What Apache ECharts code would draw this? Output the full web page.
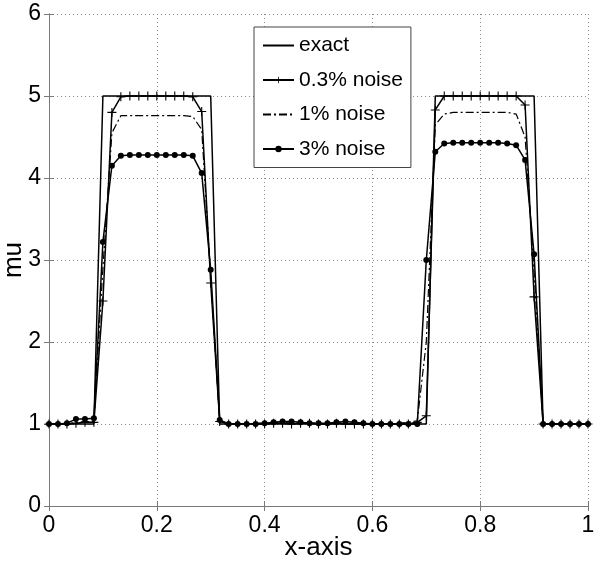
<!DOCTYPE html>
<html>
<head>
<meta charset="utf-8">
<script src="https://cdn.jsdelivr.net/npm/echarts@6/dist/echarts.min.js"></script>
<style>
  html, body { margin: 0; padding: 0; background: #fff; }
  #chart { width: 600px; height: 566px; }
</style>
</head>
<body>
<div id="chart"></div>
<script>
// sample positions on the x axis
var xs = [0, 0.0167, 0.0333, 0.05, 0.0667, 0.0833, 0.1, 0.1167, 0.1333, 0.15,
  0.1667, 0.1833, 0.2, 0.2167, 0.2333, 0.25, 0.2667, 0.2833, 0.3, 0.3167,
  0.3333, 0.35, 0.3667, 0.3833, 0.4, 0.4167, 0.4333, 0.45, 0.4667, 0.4833,
  0.5, 0.5167, 0.5333, 0.55, 0.5667, 0.5833, 0.6, 0.6167, 0.6333, 0.65,
  0.6667, 0.6833, 0.7, 0.7167, 0.7333, 0.75, 0.7667, 0.7833, 0.8, 0.8167,
  0.8333, 0.85, 0.8667, 0.8833, 0.9, 0.9167, 0.9333, 0.95, 0.9667, 0.9833,
  1]

var exact = [1, 1, 1, 1, 1, 1, 5, 5, 5, 5,
  5, 5, 5, 5, 5, 5, 5, 5, 5, 1,
  1, 1, 1, 1, 1, 1, 1, 1, 1, 1,
  1, 1, 1, 1, 1, 1, 1, 1, 1, 1,
  1, 1, 1, 5, 5, 5, 5, 5, 5, 5,
  5, 5, 5, 5, 5, 1, 1, 1, 1, 1,
  1]

var noise03 = [1, 1, 1, 1.01, 1.02, 1.02, 2.5, 4.8, 4.99, 5,
  5, 5, 5, 5, 5, 5, 4.99, 4.81, 2.72, 1.03,
  1, 1, 1, 1, 1, 1.01, 1.01, 1, 1.01, 1.01,
  1, 1, 1.01, 1, 1, 1, 1, 1, 1, 1,
  1, 1.02, 1.1, 4.83, 5, 5, 5, 5, 5, 5,
  5, 5, 5, 4.89, 2.55, 1, 1, 1, 1, 1,
  1]

var noise1 = [1, 1, 1, 1.02, 1.03, 1.03, 2.9, 4.55, 4.76, 4.76,
  4.76, 4.76, 4.76, 4.76, 4.76, 4.76, 4.75, 4.59, 2.8, 1.04,
  1, 1, 1, 1.01, 1.01, 1.02, 1.02, 1.01, 1.01, 1.01,
  1.01, 1, 1.01, 1.01, 1.01, 1, 1, 1, 1, 1.01,
  1.02, 1.04, 2.0, 4.65, 4.78, 4.8, 4.8, 4.8, 4.8, 4.8,
  4.8, 4.8, 4.78, 4.5, 2.85, 1, 1, 1, 1, 1,
  1]

var noise3 = [1, 1, 1.01, 1.06, 1.06, 1.07, 3.22, 4.15, 4.27, 4.28,
  4.28, 4.28, 4.28, 4.28, 4.28, 4.28, 4.27, 4.06, 2.88, 1.05,
  1, 1, 1, 1, 1.01, 1.02, 1.03, 1.03, 1.02, 1.01,
  1.01, 1.01, 1.02, 1.03, 1.02, 1.01, 1, 1, 1, 1,
  1, 1, 3.0, 4.32, 4.42, 4.43, 4.43, 4.43, 4.43, 4.43,
  4.43, 4.42, 4.4, 4.22, 3.07, 1, 1, 1, 1, 1,
  1]

var names = ['exact', '0.3% noise', '1% noise', '3% noise']

function pairs(ys) {
  return xs.map(function (x, i) { return [x, ys[i]] })
}

var axisGrey = '#7a7a7a'
var font = 'Liberation Sans, Arial, Helvetica, sans-serif'
var plus = 'path://M4.4,0h1.2v4.4h4.4v1.2h-4.4v4.4h-1.2v-4.4h-4.4v-1.2h4.4z'

function mainAxis(extra) {
  return Object.assign({
    type: 'value',
    axisLine: { show: true, lineStyle: { color: axisGrey, width: 1 } },
    axisTick: { show: true, inside: true, length: 5, lineStyle: { color: axisGrey } },
    axisLabel: {
      fontSize: 23, color: '#000', fontFamily: font,
      formatter: function (v) { return String(parseFloat(v.toFixed(1))) }
    },
    splitLine: { show: true, lineStyle: { color: '#8c8c8c', type: [1, 3], width: 1 } },
    nameLocation: 'middle',
    nameMoveOverlap: false,
    nameTextStyle: { fontSize: 26, color: '#000', fontFamily: font }
  }, extra)
}

function boxAxis(extra) {
  return Object.assign({
    type: 'value',
    axisLine: { show: true, lineStyle: { color: axisGrey, width: 1 } },
    axisTick: { show: true, inside: true, length: 5, lineStyle: { color: axisGrey } },
    axisLabel: { show: false },
    splitLine: { show: false }
  }, extra)
}

var chart = echarts.init(document.getElementById('chart'))
chart.setOption({
  animation: false,
  backgroundColor: '#fff',
  grid: { left: 49, right: 12, top: 14, bottom: 60, containLabel: false, outerBoundsMode: 'none' },
  legend: {
    // no marker on the plain and dash-dot entries
    data: [
      { name: names[0], itemStyle: { opacity: 0 } },
      { name: names[1] },
      { name: names[2], itemStyle: { opacity: 0 } },
      { name: names[3] }
    ],
    orient: 'vertical',
    left: 254,
    top: 27,
    padding: [8, 8, 8, 8],
    itemGap: 13.5,
    itemWidth: 31,
    itemHeight: 8,
    backgroundColor: '#fff',
    borderColor: '#444',
    borderWidth: 1,
    textStyle: { fontSize: 21, color: '#000', fontFamily: font }
  },
  xAxis: [
    mainAxis({ min: 0, max: 1, interval: 0.2, position: 'bottom', name: 'x-axis', nameGap: 29 }),
    boxAxis({ min: 0, max: 1, interval: 0.2, position: 'top' })
  ],
  yAxis: [
    mainAxis({ min: 0, max: 6, interval: 1, position: 'left', name: 'mu', nameGap: 22 }),
    boxAxis({ min: 0, max: 6, interval: 1, position: 'right' })
  ],
  series: [
    {
      name: names[0], type: 'line', data: pairs(exact), symbol: 'none',
      lineStyle: { color: '#000', width: 1.5 }, itemStyle: { color: '#000' }
    },
    {
      name: names[1], type: 'line', data: pairs(noise03), symbol: plus, symbolSize: 9,
      showAllSymbol: true,
      lineStyle: { color: '#000', width: 1.5 }, itemStyle: { color: '#000' }
    },
    {
      name: names[2], type: 'line', data: pairs(noise1), symbol: 'none',
      lineStyle: { color: '#000', width: 1.2, type: [8, 3, 2, 3] }, itemStyle: { color: '#000' }
    },
    {
      name: names[3], type: 'line', data: pairs(noise3), symbol: 'circle', symbolSize: 6,
      showAllSymbol: true,
      lineStyle: { color: '#000', width: 1.5 }, itemStyle: { color: '#000' }
    }
  ]
})
</script>
</body>
</html>
